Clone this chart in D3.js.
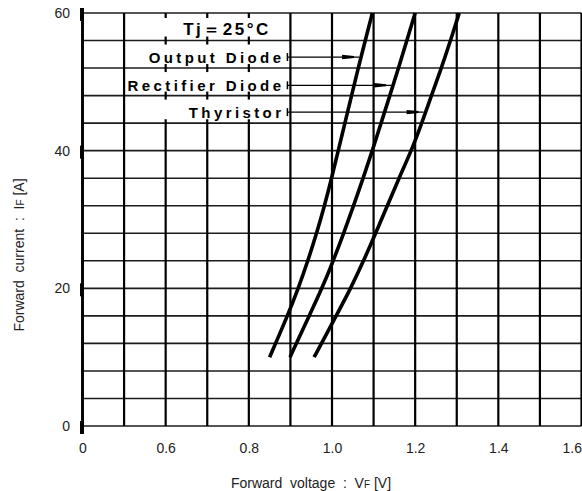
<!DOCTYPE html>
<html>
<head>
<meta charset="utf-8">
<script src="https://cdn.jsdelivr.net/npm/d3@7"></script>
<style>
html, body { margin: 0; padding: 0; background: #fff; }
svg { display: block; font-family: "Liberation Sans", Arial, sans-serif; }
</style>
</head>
<body>
<div id="chart"></div>
<script>
// forward characteristics (Tj = 25°C), current in A, voltage in V
const outputDiodeI = [10, 16, 20, 24, 28, 32, 36, 40, 44, 48, 52, 56, 60];
const outputDiodeV = [0.850, 0.893, 0.919, 0.942, 0.963, 0.982, 0.999, 1.015, 1.031, 1.047, 1.063, 1.080, 1.097];

const rectifierDiodeI = [10, 16, 20, 24, 28, 32, 36, 40, 44, 48, 52, 56, 60];
const rectifierDiodeV = [0.899, 0.945, 0.976, 1.003, 1.028, 1.052, 1.075, 1.097, 1.118, 1.139, 1.160, 1.180, 1.200];

const thyristorI = [10, 16, 20, 24, 28, 32, 36, 40, 44, 48, 52, 56, 60];
const thyristorV = [0.957, 1.010, 1.045, 1.076, 1.105, 1.133, 1.161, 1.191, 1.216, 1.239, 1.263, 1.285, 1.306];

// legend rows (label + current where its arrow meets the curve)
const legendLabels = ["Output Diode", "Rectifier Diode", "Thyristor"];
const legendCurrents = [53.6, 49.5, 45.6];

// axis ticks (first x tick is printed as "0" on the original)
const xTickValues = [0.4, 0.6, 0.8, 1.0, 1.2, 1.4, 1.6];
const xTickLabels = ["0", "0.6", "0.8", "1.0", "1.2", "1.4", "1.6"];
const yTickValues = [0, 20, 40, 60];

const width = 582, height = 491;

const x = d3.scaleLinear().domain([0.4, 1.6]).range([82.5, 581.5]);
const y = d3.scaleLinear().domain([0, 60]).range([426, 13]);

const svg = d3.select("#chart").append("svg")
    .attr("width", width)
    .attr("height", height);

// --- grid ---
const gridV = x.ticks(12);
const gridH = d3.range(0, 61, 4);
// the legend box hides the vertical lines between 0.6 and 0.8 above 44 A
const isMasked = v => v > 0.55 && v < 0.85;
const maskBottom = 44;

svg.append("g")
    .attr("stroke", "#1c1c1c")
    .attr("stroke-width", 1.6)
    .selectAll("line")
    .data(gridH)
    .join("line")
    .attr("x1", x(0.4))
    .attr("x2", x(1.6))
    .attr("y1", d => y(d))
    .attr("y2", d => y(d));

const vg = svg.append("g")
    .attr("stroke", "#000")
    .attr("stroke-width", 2.2);

vg.selectAll("line.full")
    .data(gridV.filter(v => !isMasked(v)))
    .join("line")
    .attr("class", "full")
    .attr("x1", d => x(d)).attr("x2", d => x(d))
    .attr("y1", y(0)).attr("y2", y(60));

vg.selectAll("line.part")
    .data(gridV.filter(isMasked))
    .join("line")
    .attr("class", "part")
    .attr("x1", d => x(d)).attr("x2", d => x(d))
    .attr("y1", y(0)).attr("y2", y(maskBottom) - 4);

// little stubs left where the grid crosses under the legend
const stubs = [];
gridV.filter(isMasked).forEach(v => {
    [48, 52, 56].forEach(i => stubs.push({ v: v, i: i, a: -4, b: 4 }));
    stubs.push({ v: v, i: 60, a: 0, b: 5 });
});
vg.selectAll("line.stub")
    .data(stubs)
    .join("line")
    .attr("class", "stub")
    .attr("x1", d => x(d.v)).attr("x2", d => x(d.v))
    .attr("y1", d => y(d.i) + d.a).attr("y2", d => y(d.i) + d.b);

// left axis line, heavier
svg.append("line")
    .attr("x1", x(0.4)).attr("x2", x(0.4))
    .attr("y1", y(0) + 1).attr("y2", y(60) - 1)
    .attr("stroke", "#000")
    .attr("stroke-width", 2.8);

// tick blobs on the left axis
svg.append("g")
    .selectAll("rect")
    .data(yTickValues)
    .join("rect")
    .attr("x", x(0.4) - 2.5)
    .attr("y", d => y(d) - 5)
    .attr("width", 4)
    .attr("height", 13)
    .attr("fill", "#000");

// --- curves ---
const series = [
    { I: outputDiodeI, V: outputDiodeV },
    { I: rectifierDiodeI, V: rectifierDiodeV },
    { I: thyristorI, V: thyristorV }
];

const line = d3.line()
    .x(d => x(d[1]))
    .y(d => y(d[0]))
    .curve(d3.curveBasis);

svg.append("g")
    .attr("fill", "none")
    .attr("stroke", "#000")
    .attr("stroke-width", 3.6)
    .selectAll("path")
    .data(series)
    .join("path")
    .attr("d", s => line(s.I.map((c, k) => [c, s.V[k]])));

// --- legend ---
const lg = svg.append("g")
    .attr("font-weight", "bold")
    .attr("fill", "#000");

const labelEnd = x(0.9) - 6;

lg.append("text")
    .attr("x", (x(0.6) + x(0.9)) / 2 - 1)
    .attr("y", y(56) - 6)
    .attr("text-anchor", "middle")
    .attr("font-size", 17)
    .attr("letter-spacing", 2.5)
    .text("Tj\uFF1D25°C");

lg.selectAll("text.lab")
    .data(legendLabels)
    .join("text")
    .attr("class", "lab")
    .attr("x", labelEnd)
    .attr("y", (d, i) => y(legendCurrents[i]) + 5.5)
    .attr("text-anchor", "end")
    .attr("font-size", 15)
    .attr("letter-spacing", 3.4)
    .text(d => d);

// arrows from the labels to their curves
legendLabels.forEach((lab, i) => {
    const s = series[i];
    const vAt = d3.scaleLinear().domain(s.I).range(s.V);
    const yy = y(legendCurrents[i]);
    const x0 = x(0.9) - 3;
    const x1 = x(vAt(legendCurrents[i])) - 2;
    svg.append("line")
        .attr("x1", x0).attr("x2", x1)
        .attr("y1", yy).attr("y2", yy)
        .attr("stroke", "#000")
        .attr("stroke-width", 1.3);
    svg.append("line")
        .attr("x1", x0).attr("x2", x0)
        .attr("y1", yy - 4).attr("y2", yy + 4)
        .attr("stroke", "#000")
        .attr("stroke-width", 1.5);
    svg.append("path")
        .attr("d", `M${x1 - 17},${yy - 2.2} L${x1 - 5},${yy - 1} L${x1 - 5},${yy + 1} L${x1 - 17},${yy + 2.2} Z`)
        .attr("fill", "#000");
});

// --- axes (labels only) ---
const xAxis = svg.append("g")
    .attr("transform", `translate(0,${y(0)})`)
    .call(d3.axisBottom(x)
        .tickValues(xTickValues)
        .tickFormat((d, i) => xTickLabels[i])
        .tickSize(0)
        .tickPadding(17));
xAxis.select(".domain").remove();
xAxis.selectAll("text")
    .attr("font-size", 14)
    .attr("font-family", "Liberation Sans, Arial, sans-serif")
    .attr("fill", "#222");
// keep the last label inside the frame
xAxis.selectAll("text")
    .filter(d => d === 1.6)
    .attr("text-anchor", "end")
    .attr("x", 0);

const yAxis = svg.append("g")
    .attr("transform", `translate(${x(0.4)},0)`)
    .call(d3.axisLeft(y)
        .tickValues(yTickValues)
        .tickSize(0)
        .tickPadding(12.5));
yAxis.select(".domain").remove();
yAxis.selectAll("text")
    .attr("font-size", 14)
    .attr("font-family", "Liberation Sans, Arial, sans-serif")
    .attr("fill", "#222");

// axis titles
const xt = svg.append("text")
    .attr("x", 311)
    .attr("y", 488)
    .attr("text-anchor", "middle")
    .attr("font-size", 14)
    .attr("fill", "#222")
    .style("white-space", "pre");
xt.append("tspan").text("Forward  voltage  :  V");
xt.append("tspan").attr("font-size", 10).text("F");
xt.append("tspan").text(" [V]");

const yt = svg.append("text")
    .attr("transform", "translate(19,255) rotate(-90)")
    .attr("dy", "0.35em")
    .attr("text-anchor", "middle")
    .attr("font-size", 14)
    .attr("fill", "#222")
    .style("white-space", "pre");
yt.append("tspan").text("Forward  current  :  I");
yt.append("tspan").attr("font-size", 10).text("F");
yt.append("tspan").text(" [A]");
</script>
</body>
</html>
